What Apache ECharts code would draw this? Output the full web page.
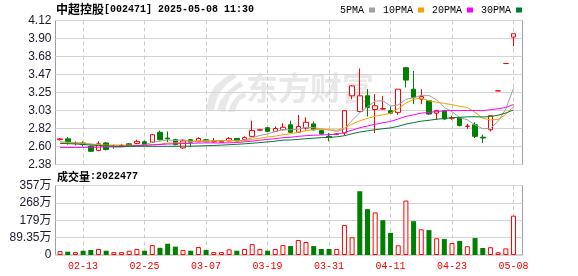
<!DOCTYPE html>
<html><head><meta charset="utf-8">
<script src="https://cdn.jsdelivr.net/npm/echarts@6/dist/echarts.min.js"></script>
<style>html,body{margin:0;padding:0;background:#fff}#c{width:578px;height:276px}</style>
</head><body><div id="c"></div>
<script>
const stockName = '中超控股';
const stockCode = '002471';
const stamp = '2025-05-08 11:30';
const lastVolume = '2022477';

const dates = ['02-10','02-11','02-12','02-13','02-14','02-17','02-18','02-19','02-20','02-21','02-24','02-25','02-26','02-27','02-28','03-03','03-04','03-05','03-06','03-07','03-10','03-11','03-12','03-13','03-14','03-17','03-18','03-19','03-20','03-21','03-24','03-25','03-26','03-27','03-28','03-31','04-01','04-02','04-03','04-07','04-08','04-09','04-10','04-11','04-14','04-15','04-16','04-17','04-18','04-21','04-22','04-23','04-24','04-25','04-28','04-29','04-30','05-06','05-07','05-08'];

const opens  = [2.68,2.69,2.635,2.64,2.60,2.55,2.64,2.595,2.605,2.63,2.635,2.655,2.65,2.77,2.70,2.68,2.58,2.68,2.655,2.68,2.655,2.65,2.665,2.695,2.68,2.72,2.795,2.825,2.78,2.80,2.86,2.77,2.82,2.87,2.79,2.72,2.745,2.76,3.21,3.02,3.21,3.045,3.05,3.03,3.01,3.55,3.29,3.17,3.15,3.00,3.03,2.94,2.94,2.84,2.86,2.71,2.80,3.27,3.60,3.92];
const closes = [2.69,2.65,2.64,2.62,2.54,2.63,2.56,2.60,2.61,2.61,2.66,2.62,2.74,2.68,2.69,2.62,2.665,2.65,2.695,2.655,2.66,2.66,2.695,2.665,2.705,2.79,2.80,2.78,2.815,2.83,2.77,2.84,2.89,2.80,2.75,2.71,2.75,3.03,3.33,3.21,3.07,3.09,3.055,3.00,3.29,3.40,3.19,3.20,2.99,3.03,2.93,2.945,2.85,2.845,2.72,2.70,2.97,3.27,3.60,3.96];
const lows   = [2.67,2.62,2.61,2.60,2.53,2.54,2.55,2.57,2.59,2.60,2.63,2.61,2.64,2.67,2.65,2.61,2.57,2.59,2.65,2.65,2.64,2.645,2.66,2.66,2.67,2.71,2.79,2.77,2.775,2.79,2.76,2.76,2.80,2.79,2.74,2.66,2.74,2.73,3.17,3.01,2.96,2.76,3.04,2.99,2.98,3.31,3.11,3.11,2.98,2.92,2.92,2.92,2.84,2.81,2.70,2.64,2.78,3.27,3.60,3.81];
const highs  = [2.70,2.71,2.66,2.66,2.61,2.66,2.65,2.62,2.63,2.64,2.68,2.67,2.75,2.79,2.78,2.69,2.685,2.685,2.71,2.69,2.70,2.67,2.71,2.70,2.72,2.91,2.81,2.835,2.84,2.88,2.91,2.98,2.95,2.90,2.80,2.76,2.76,3.03,3.34,3.54,3.29,3.23,3.21,3.08,3.29,3.56,3.51,3.29,3.16,3.04,3.04,2.97,2.95,2.87,2.89,2.74,2.97,3.27,3.60,3.96];

// volume in 万 shares, and whether the bar is drawn as an up (red) bar
const volumes = [20,17,15,22,26,31,22,15,15,22,31,22,51,37,58,43,26,22,41,26,15,15,29,22,31,56,31,22,31,51,46,77,67,46,31,31,31,154,91,328,236,219,179,114,50,280,174,132,128,86,82,62,72,45,87,36,40,14,34,202.2477];
const volUp = [1,0,1,0,0,1,0,1,1,1,1,0,1,0,0,0,1,0,1,0,1,1,1,0,1,1,1,0,1,1,0,1,1,0,0,0,1,1,1,0,0,1,0,0,1,1,0,1,0,1,0,1,0,1,0,0,1,1,1,1];

const ma5  = [2.655,2.65,2.645,2.64,2.628,2.616,2.598,2.59,2.588,2.602,2.608,2.62,2.648,2.662,2.678,2.67,2.679,2.661,2.664,2.657,2.665,2.664,2.673,2.667,2.677,2.703,2.731,2.748,2.778,2.803,2.799,2.807,2.829,2.826,2.81,2.798,2.78,2.808,2.914,3.006,3.078,3.146,3.151,3.085,3.101,3.167,3.187,3.216,3.214,3.162,3.068,3.019,2.949,2.92,2.858,2.812,2.817,2.901,3.052,3.30];
const ma10 = [2.64,2.64,2.635,2.63,2.625,2.62,2.615,2.615,2.615,2.615,2.612,2.609,2.619,2.625,2.64,2.639,2.65,2.655,2.663,2.668,2.668,2.672,2.667,2.666,2.667,2.684,2.698,2.711,2.723,2.74,2.751,2.769,2.789,2.802,2.807,2.799,2.794,2.819,2.87,2.908,2.938,2.963,2.98,3.0,3.054,3.123,3.167,3.184,3.15,3.132,3.118,3.103,3.083,3.067,3.01,2.94,2.918,2.925,2.986,3.079];
const ma20 = [2.585,2.585,2.586,2.587,2.588,2.59,2.593,2.597,2.60,2.604,2.608,2.612,2.617,2.622,2.627,2.63,2.633,2.636,2.639,2.641,2.64,2.64,2.643,2.645,2.654,2.662,2.674,2.683,2.693,2.704,2.709,2.72,2.728,2.734,2.737,2.741,2.746,2.765,2.796,2.824,2.845,2.866,2.884,2.901,2.93,2.961,2.98,3.001,3.01,3.02,3.028,3.033,3.031,3.033,3.032,3.031,3.042,3.054,3.068,3.105];
const ma30 = [2.635,2.632,2.628,2.622,2.615,2.61,2.605,2.602,2.60,2.60,2.60,2.60,2.60,2.60,2.60,2.60,2.601,2.602,2.604,2.607,2.61,2.614,2.619,2.624,2.63,2.637,2.645,2.653,2.662,2.674,2.677,2.683,2.692,2.698,2.705,2.707,2.714,2.728,2.752,2.772,2.786,2.801,2.812,2.822,2.842,2.868,2.886,2.904,2.914,2.927,2.936,2.945,2.95,2.956,2.957,2.954,2.959,2.976,3.002,3.04];

const maNames  = ['5PMA','10PMA','20PMA','30PMA'];
const xTickDates = ['02-13','02-25','03-07','03-19','03-31','04-11','04-23','05-08'];
const priceTickLabels = ['2.38','2.60','2.82','3.03','3.25','3.47','3.68','3.90','4.12'];
const priceMin = 2.38, priceMax = 4.12;
const volTickLabels = ['0','89.35万','179万','268万','357万'];
const volMax = 357.4;

const RED = '#ff0000', GREEN = '#008000';
const maColors = ['#a0a0a0','#f4a100','#ff00ff','#007a33'];

const priceTicks = priceTickLabels.map((_, k) => priceMin + (priceMax - priceMin) * k / (priceTickLabels.length - 1));
const volTicks = volTickLabels.map((_, k) => volMax * k / (volTickLabels.length - 1));
const xTickIdx = xTickDates.map(d => dates.indexOf(d));
const xMin = -0.594, xMax = dates.length - 1 + 1.172;

const candleData = dates.map((d, i) => [i, opens[i], closes[i], lows[i], highs[i]]);
const volData = volumes.map((v, i) => ({
  value: [i, v],
  itemStyle: volUp[i] ? { color: '#ffffff', borderColor: RED, borderWidth: 1 } : { color: GREEN, borderColor: GREEN, borderWidth: 0 }
}));
const maSeries = [ma5, ma10, ma20, ma30].map((arr, k) => ({
  name: maNames[k], type: 'line', xAxisIndex: 0, yAxisIndex: 0,
  data: arr.map((v, i) => [i, v]), showSymbol: false, symbol: 'rect',
  lineStyle: { width: 1, color: maColors[k] }, itemStyle: { color: maColors[k] },
  z: 4, silent: true
}));

const gridLine = { show: true, lineStyle: { color: '#d4d4d4', width: 1 } };
const dashLine = { show: true, lineStyle: { color: '#cccccc', width: 1, type: [4, 3] } };
const monoFont = '"Liberation Mono","DejaVu Sans Mono",monospace';
const cjkFont = '"Noto Sans CJK SC",sans-serif';
const wmFill = '#e8e8e8';

const chart = echarts.init(document.getElementById('c'), null, { renderer: 'canvas' });
chart.setOption({
  animation: false,
  backgroundColor: '#ffffff',
  title: [
    { text: '{a|' + stockName + '}{b|[' + stockCode + '] ' + stamp + '}', left: 56, top: 3, padding: 0,
      textStyle: { rich: { a: { fontFamily: cjkFont, fontSize: 12, color: '#000' }, b: { fontFamily: monoFont, fontSize: 10, color: '#000' } } } },
    { text: '{a|成交量}{b|:' + lastVolume + '}', left: 57, top: 171, padding: 0,
      textStyle: { rich: { a: { fontFamily: cjkFont, fontSize: 11, color: '#000' }, b: { fontFamily: monoFont, fontSize: 10, color: '#000' } } } }
  ],
  legend: {
    data: maNames, left: 340, top: 5, padding: 0, align: 'right', icon: 'rect',
    itemWidth: 6, itemHeight: 5, itemGap: 8, selectedMode: false,
    textStyle: { fontFamily: monoFont, fontSize: 10, color: '#000' }
  },
  graphic: [
    { type: 'polygon', z: -10, silent: true,
      shape: { points: [[206,110],[209,96],[216,85],[226,77],[233,73],[237,77],[228,83],[220,92],[216,101],[214,111]] },
      style: { fill: wmFill } },
    { type: 'polygon', z: -10, silent: true,
      shape: { points: [[217,111],[220,101],[227,92],[235,85],[241,81],[243,86],[236,90],[230,96],[227,104],[225,112]] },
      style: { fill: wmFill } },
    { type: 'polygon', z: -10, silent: true,
      shape: { points: [[228,112],[231,104],[237,96],[245,91],[246,97],[240,100],[237,105],[235,112]] },
      style: { fill: wmFill } },
    { type: 'text', left: 246, top: 72, z: -10, silent: true,
      style: { text: '东方财富', font: 'bold 32px "Noto Sans CJK SC"', fill: wmFill } }
  ],
  grid: [
    { left: 55.5, right: 55.5, top: 20.5, height: 144, show: true, borderColor: '#a0a0a0', borderWidth: 1, backgroundColor: 'transparent' },
    { left: 55.5, right: 55.5, top: 185.5, height: 69.5, show: true, borderColor: '#a0a0a0', borderWidth: 1, backgroundColor: 'transparent' }
  ],
  xAxis: [
    { type: 'value', gridIndex: 0, min: xMin, max: xMax,
      axisLine: { show: false }, axisTick: { show: false, customValues: xTickIdx }, axisLabel: { show: false, customValues: xTickIdx },
      splitLine: dashLine },
    { type: 'value', gridIndex: 1, min: xMin, max: xMax,
      axisLine: { show: false }, axisTick: { show: false, customValues: xTickIdx },
      axisLabel: { show: true, customValues: xTickIdx, margin: 6, color: RED, fontFamily: monoFont, fontSize: 10,
        formatter: v => dates[Math.round(v)] },
      splitLine: dashLine }
  ],
  yAxis: [
    { type: 'value', gridIndex: 0, min: priceMin, max: priceMax,
      axisLine: { show: false }, axisTick: { show: false, customValues: priceTicks },
      axisLabel: { customValues: priceTicks, margin: 4, color: '#1a1a2e', fontFamily: '"Liberation Sans",Arial,sans-serif', fontSize: 12,
        formatter: v => priceTickLabels[Math.round((v - priceMin) / (priceMax - priceMin) * (priceTickLabels.length - 1))] },
      splitLine: gridLine },
    { type: 'value', gridIndex: 1, min: 0, max: volMax,
      axisLine: { show: false }, axisTick: { show: false, customValues: volTicks },
      axisLabel: { customValues: volTicks, margin: 4, color: '#1a1a2e', fontFamily: '"Liberation Sans","Noto Sans CJK SC",sans-serif', fontSize: 12,
        formatter: v => volTickLabels[Math.round(v / volMax * (volTickLabels.length - 1))] },
      splitLine: gridLine }
  ],
  series: [
    { type: 'candlestick', xAxisIndex: 0, yAxisIndex: 0, data: candleData, encode: { x: 0, y: [1, 2, 3, 4] },
      barWidth: 5, z: 3, silent: true,
      itemStyle: { color: '#ffffff', color0: GREEN, borderColor: RED, borderColor0: GREEN, borderWidth: 1 } },
    ...maSeries,
    { type: 'bar', xAxisIndex: 1, yAxisIndex: 1, data: volData, barWidth: 5, silent: true, z: 3 }
  ]
});
</script>
</body></html>
